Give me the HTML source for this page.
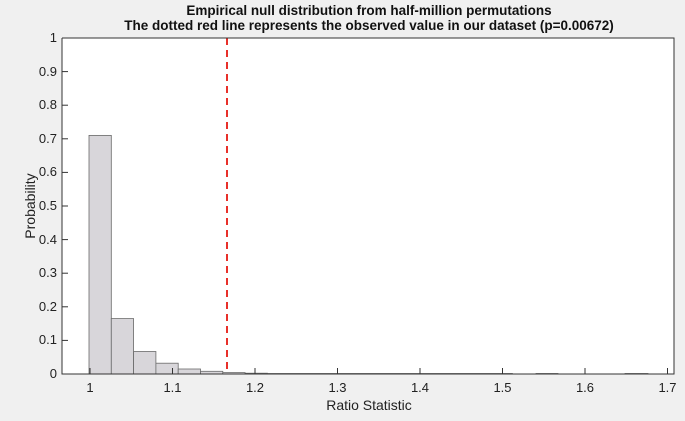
<!DOCTYPE html>
<html><head><style>body{margin:0;background:#f0f0f0;}</style></head><body>
<svg width="685" height="416" xmlns="http://www.w3.org/2000/svg" font-family="Liberation Sans, sans-serif">
<rect x="0" y="0" width="685" height="416" fill="#f0f0f0"/>
<rect x="62" y="38" width="612" height="336" fill="#fff"/>
<g fill="#d8d6da" stroke="#6a6a6a" stroke-width="0.8">
<rect x="89" y="135.4" width="22.3" height="238.6"/>
<rect x="111.3" y="318.6" width="22.3" height="55.4"/>
<rect x="133.6" y="351.5" width="22.3" height="22.5"/>
<rect x="155.9" y="363.2" width="22.3" height="10.8"/>
<rect x="178.2" y="369" width="22.3" height="5"/>
<rect x="200.5" y="371.3" width="22.3" height="2.7"/>
<rect x="222.8" y="372.6" width="22.3" height="1.4"/>
<rect x="245.1" y="373.2" width="22.3" height="0.8"/>
<rect x="267.4" y="373.5" width="245" height="0.5"/>
<rect x="536" y="373.5" width="22" height="0.5"/>
<rect x="625" y="373.5" width="23" height="0.5"/>
</g>
<line x1="227" y1="38" x2="227" y2="374" stroke="#e8302a" stroke-width="2" stroke-dasharray="7,5"/>
<g stroke="#333" stroke-width="1" fill="none">
<path d="M62 38V374H674V38H62"/>
</g>
<g stroke="#333" stroke-width="1">
<line x1="90" y1="374" x2="90" y2="368"/><line x1="172.5" y1="374" x2="172.5" y2="368"/><line x1="255" y1="374" x2="255" y2="368"/><line x1="337.5" y1="374" x2="337.5" y2="368"/><line x1="420" y1="374" x2="420" y2="368"/><line x1="502.5" y1="374" x2="502.5" y2="368"/><line x1="585" y1="374" x2="585" y2="368"/><line x1="667.5" y1="374" x2="667.5" y2="368"/>
<line x1="62" y1="38" x2="68" y2="38"/><line x1="62" y1="71.6" x2="68" y2="71.6"/><line x1="62" y1="105.2" x2="68" y2="105.2"/><line x1="62" y1="138.8" x2="68" y2="138.8"/><line x1="62" y1="172.4" x2="68" y2="172.4"/><line x1="62" y1="206" x2="68" y2="206"/><line x1="62" y1="239.6" x2="68" y2="239.6"/><line x1="62" y1="273.2" x2="68" y2="273.2"/><line x1="62" y1="306.8" x2="68" y2="306.8"/><line x1="62" y1="340.4" x2="68" y2="340.4"/>
</g>
<g font-size="13" fill="#222" text-anchor="middle">
<text x="90" y="392">1</text><text x="172.5" y="392">1.1</text><text x="255" y="392">1.2</text><text x="337.5" y="392">1.3</text><text x="420" y="392">1.4</text><text x="502.5" y="392">1.5</text><text x="585" y="392">1.6</text><text x="667.5" y="392">1.7</text>
</g>
<g font-size="13" fill="#222" text-anchor="end">
<text x="57" y="42">1</text><text x="57" y="76">0.9</text><text x="57" y="109">0.8</text><text x="57" y="143">0.7</text><text x="57" y="176">0.6</text><text x="57" y="210">0.5</text><text x="57" y="244">0.4</text><text x="57" y="277">0.3</text><text x="57" y="311">0.2</text><text x="57" y="344">0.1</text><text x="57" y="378">0</text>
</g>
<text x="369" y="410" font-size="14" fill="#222" text-anchor="middle">Ratio Statistic</text>
<text x="35" y="206" font-size="14" fill="#222" text-anchor="middle" transform="rotate(-90 35 206)">Probability</text>
<text x="369" y="15" font-size="13.5" font-weight="bold" fill="#111" text-anchor="middle">Empirical null distribution from half-million permutations</text>
<text x="369" y="30" font-size="13.5" font-weight="bold" fill="#111" text-anchor="middle">The dotted red line represents the observed value in our dataset (p=0.00672)</text>
</svg>
</body></html>
